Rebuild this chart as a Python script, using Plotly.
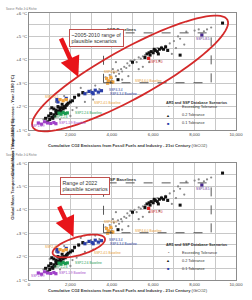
import numpy as np
import plotly.graph_objects as go

# ---------------- data (GtCO2, degC) ----------------
grey_x = [3700, 3800, 3900, 4000, 4100, 4200, 4300, 4350, 4450, 4500, 4600, 4700, 4750, 4850,
          4900, 5000, 5100, 5200, 5300, 5400, 5500, 5600, 5300, 5500, 4800, 6000, 6200, 6400,
          6600, 6800, 7000, 7100, 7300, 6900, 7500, 7200, 7600, 8000, 8200, 8800, 5800, 6300,
          4200, 4500, 4050, 8450, 8600,
          700, 900, 1100, 1200, 1400, 1600, 1800, 2000, 2200, 2400, 2600, 2800, 3000, 2300,
          2700, 3100, 1500, 2000, 2500, 3200, 1000, 1300, 3400, 600, 2100, 1700]
grey_y = [3.25, 3.10, 3.35, 3.20, 3.45, 3.30, 3.55, 3.40, 3.60, 3.50, 3.70, 3.65, 3.85, 3.75,
          3.95, 3.85, 4.00, 3.90, 4.10, 4.05, 4.15, 4.20, 3.60, 3.70, 3.30, 4.40, 4.50, 4.55,
          4.60, 4.70, 4.80, 4.50, 4.90, 4.25, 4.65, 5.00, 5.20, 5.25, 5.30, 5.38, 3.90, 3.95,
          3.90, 3.15, 3.60, 5.22, 5.30,
          1.45, 1.50, 1.70, 1.55, 1.90, 2.00, 2.10, 2.30, 2.35, 2.45, 2.55, 2.60, 2.70, 1.95,
          2.20, 2.30, 1.45, 1.60, 2.80, 2.90, 1.90, 2.20, 2.75, 1.25, 1.85, 2.45]

black_x = [5700, 5800, 5900, 6000, 6100, 6200, 6300, 6400, 6500, 6600, 5850, 6050, 6250, 5600,
           7300, 5000, 4300, 9350, 6700, 4000,
           900, 1000, 1100, 1150, 1200, 1250, 1300, 1350, 1400, 1450, 1500, 1550, 1600, 1650,
           1700, 1750, 1800, 1850, 1900, 2000, 2100, 1200, 1050, 950, 1400, 1600, 2200, 2400,
           2600, 1100, 800, 1500, 1300]
black_y = [4.25, 4.30, 4.35, 4.30, 4.40, 4.35, 4.45, 4.50, 4.45, 4.55, 4.20, 4.45, 4.25, 4.10,
           4.20, 3.90, 3.15, 5.57, 4.40, 3.05,
           1.35, 1.45, 1.55, 1.50, 1.65, 1.60, 1.75, 1.70, 1.80, 1.75, 1.85, 1.80, 1.95, 1.90,
           2.00, 1.95, 2.05, 2.10, 2.15, 2.20, 2.25, 1.90, 1.70, 1.60, 2.00, 2.10, 2.40, 2.50,
           2.60, 1.95, 1.50, 1.95, 1.85]

blue_x = [1350, 1400, 2900, 3050, 3200, 3350, 3500, 3100, 2700, 1800]
blue_y = [2.30, 2.20, 2.65, 2.60, 2.70, 2.62, 2.68, 2.55, 2.55, 2.35]

purple_x = [450, 600, 750, 900, 1050, 1200, 1300]
purple_y = [1.30, 1.25, 1.35, 1.30, 1.28, 1.32, 1.27]
green_x = [1450, 1550, 1650, 1750, 1850]
green_y = [1.72, 1.68, 1.75, 1.70, 1.73]
orange_x = [1500, 1650, 1800, 3750, 3850, 3950, 4050, 3800]
orange_y = [2.30, 2.25, 2.30, 3.20, 3.10, 3.25, 3.05, 3.00]
red_x = [5780]
red_y = [4.06]
ssp585_x = [8350]
ssp585_y = [5.06]

labels = [  # text, x, y, colour
    ("SSP5-8.5", 8400, 4.88, "#5b2d90"),
    ("SSP3-7.0", 6150, 3.90, "#d02020"),
    ("SSP4-6.0", 3950, 3.50, "#e89a30"),
    ("SSP4-6.0 Baseline", 5750, 3.10, "#e89a30"),
    ("SSP4-3.4", 4200, 2.72, "#23379a"),
    ("SSP4-3.4 Baseline", 4550, 2.53, "#23379a"),
    ("SSP2-4.5", 1100, 2.41, "#e89a30"),
    ("SSP2-4.5 Baseline", 3800, 2.15, "#e89a30"),
    ("SSP2-2.6", 1550, 1.57, "#1a9a50"),
    ("SSP2-2.6 Baseline", 2850, 1.72, "#1a9a50"),
    ("SSP1-1.9", 450, 1.15, "#a040c8"),
    ("SSP1-1.9 Baseline", 2100, 1.30, "#a040c8"),
]

xticks = [0, 1000, 2000, 3000, 4000, 5000, 6000, 7000, 8000, 9000, 10000]
xticktext = ["0", "", "2,000", "", "4,000", "", "6,000", "", "8,000", "", "10,000"]
yticks = [1, 1.5, 2, 2.5, 3, 3.5, 4, 4.5, 5, 5.5, 6]
yticktext = ["+1 °C", "", "+2 °C", "", "+3 °C", "", "+4 °C", "", "+5 °C", "", "+6 °C"]

panel_notes = ["~2005-2010 range of<br>plausible scenarios", "Range of 2022<br>plausible scenarios"]

# ---------------- geometry helpers ----------------
W, H = 252, 300
L, R, T, B = 29, 9, 13, 20
PW, PH = W - L - R, H - T - B


def pp(px, py):
    return (px - L) / PW, (H - B - py) / PH


FONT = "Liberation Sans, Arial, sans-serif"
GRID = "#c8c8c8"
fig = go.Figure()

axes = [("x", "y"), ("x2", "y2")]
for i, (xa, ya) in enumerate(axes):
    fig.add_trace(go.Scatter(x=grey_x, y=grey_y, mode="markers", xaxis=xa, yaxis=ya,
                             marker=dict(size=2.2, color="#8a8a8a"), showlegend=False))
    fig.add_trace(go.Scatter(x=black_x, y=black_y, mode="markers", xaxis=xa, yaxis=ya,
                             marker=dict(size=3.0, color="#111111", symbol="square"), showlegend=False))
    fig.add_trace(go.Scatter(x=blue_x, y=blue_y, mode="markers", xaxis=xa, yaxis=ya,
                             marker=dict(size=3.2, color="#2a3fa8", symbol="square"), showlegend=False))
    for xs, ys, c in [(purple_x, purple_y, "#a040c8"), (green_x, green_y, "#1a9a50"),
                      (orange_x, orange_y, "#f0a540"), (red_x, red_y, "#e02020"),
                      (ssp585_x, ssp585_y, "#4a2a90")]:
        fig.add_trace(go.Scatter(x=xs, y=ys, mode="markers", xaxis=xa, yaxis=ya,
                                 marker=dict(size=3.2, color=c, symbol="square"), showlegend=False))

ax_common = dict(showline=True, linecolor="#8c8c8c", linewidth=1, mirror=True,
                 showgrid=True, gridcolor=GRID, gridwidth=0.8, zeroline=False, ticks="",
                 tickfont=dict(size=4.3, color="#444", family=FONT))
xax = dict(ax_common, range=[0, 10000], tickmode="array", tickvals=xticks, ticktext=xticktext)
yax = dict(ax_common, range=[1, 6], tickmode="array", tickvals=yticks, ticktext=yticktext)
top_b = (H - B - 130) / PH
bot_t = (H - B - 163) / PH
fig.update_layout(
    xaxis=dict(xax, domain=[0, 1], anchor="y"),
    yaxis=dict(yax, domain=[top_b, 1], anchor="x"),
    xaxis2=dict(xax, domain=[0, 1], anchor="y2"),
    yaxis2=dict(yax, domain=[0, bot_t], anchor="x2"),
)

shapes = []
annotations = []
for i, (xa, ya) in enumerate(axes):
    off = 150 * i
    # dashed SSP baselines box
    shapes.append(dict(type="rect", xref=xa, yref=ya, x0=3600, x1=8800, y0=3.02, y1=5.15,
                       line=dict(color="#444", width=0.9, dash="dash")))
    annotations.append(dict(xref=xa, yref=ya, x=3650, y=5.3, text="<b>SSP Baselines</b>",
                            showarrow=False, xanchor="left", yanchor="middle",
                            font=dict(size=4.2, color="#333", family=FONT)))
    for txt, lx, ly, c in labels:
        annotations.append(dict(xref=xa, yref=ya, x=lx, y=ly, text=txt, showarrow=False,
                                font=dict(size=3.2, color=c, family=FONT)))
    # axis titles
    yt = pp(7, 71.5 + off)
    annotations.append(dict(xref="paper", yref="paper", x=yt[0], y=yt[1], textangle=-90,
                            text="<b>Global Mean Temperature Increase - Year 2100 (°C)</b>",
                            showarrow=False, font=dict(size=4.2, color="#333", family=FONT)))
    xt = pp(131, 145 + off)
    annotations.append(dict(xref="paper", yref="paper", x=xt[0], y=xt[1],
                            text="<b>Cumulative CO2 Emissions from Fossil Fuels and Industry - 21st Century</b> (GtCO2)",
                            showarrow=False, font=dict(size=4.1, color="#333", family=FONT)))
    # tiny source text
    st = pp(3, 5 + off)
    annotations.append(dict(xref="paper", yref="paper", x=st[0], y=st[1], xanchor="left",
                            text="Source: Pielke Jr &amp; Ritchie", showarrow=False,
                            font=dict(size=2.6, color="#777", family=FONT)))
    # legend
    lt = pp(169, 99 + off)
    annotations.append(dict(xref="paper", yref="paper", x=lt[0], y=lt[1], xanchor="left",
                            text="<b>AR5 and SSP Database Scenarios</b>", showarrow=False,
                            font=dict(size=3.8, color="#333", family=FONT)))
    for k, (sym, sc, txt) in enumerate([("•", "#777", "Exceeding Tolerance"),
                                        ("▲", "#222", "0.2 Tolerance"),
                                        ("■", "#2a3fa8", "0.1 Tolerance")]):
        ms = pp(177, 107 + 8 * k + off)
        annotations.append(dict(xref="paper", yref="paper", x=ms[0], y=ms[1], text=sym,
                                showarrow=False, font=dict(size=4, color=sc, family=FONT)))
        ts = pp(185, 107 + 8 * k + off)
        annotations.append(dict(xref="paper", yref="paper", x=ts[0], y=ts[1], xanchor="left",
                                text=txt, showarrow=False,
                                font=dict(size=3.8, color="#333", family=FONT)))

# red ellipses (pixel-space geometry -> paper)
def ellipse_path(cx, cy, a, b, ang_deg, n=90):
    t = np.linspace(0, 2 * np.pi, n)
    ang = np.deg2rad(ang_deg)
    ex = cx + a * np.cos(t) * np.cos(ang) - b * np.sin(t) * np.sin(ang)
    ey = cy + a * np.cos(t) * np.sin(ang) + b * np.sin(t) * np.cos(ang)
    pts = [pp(x, y) for x, y in zip(ex, ey)]
    return "M " + " L ".join(f"{x:.4f},{y:.4f}" for x, y in pts) + " Z"

shapes.append(dict(type="path", xref="paper", yref="paper",
                   path=ellipse_path(133.5, 73.5, 114, 25, -28),
                   line=dict(color="#d42a2a", width=1.8)))
shapes.append(dict(type="path", xref="paper", yref="paper",
                   path=ellipse_path(80.5, 246, 28, 9, -15.5),
                   line=dict(color="#d42a2a", width=1.8)))

# arrows
for (hx, hy, axp, ayp) in [(80, 77, -18, -40), (75, 237, -15, -32)]:
    hp = pp(hx, hy)
    annotations.append(dict(xref="paper", yref="paper", x=hp[0], y=hp[1], ax=axp, ay=ayp,
                            text="", showarrow=True, arrowhead=2, arrowsize=0.9,
                            arrowwidth=4.5, arrowcolor="#e8141a"))

# note boxes
for (cx, cy), txt in zip([(70.3, 29), (61, 195.3)], panel_notes):
    p = pp(cx, cy)
    annotations.append(dict(xref="paper", yref="paper", x=p[0], y=p[1], text=txt,
                            showarrow=False, align="left", bgcolor="white",
                            bordercolor="#c0504d", borderwidth=1, borderpad=1.5,
                            font=dict(size=5.3, color="#333", family=FONT)))

fig.update_layout(
    width=W, height=H,
    margin=dict(l=L, r=R, t=T, b=B),
    paper_bgcolor="white", plot_bgcolor="white",
    shapes=shapes, annotations=annotations, showlegend=False,
    font=dict(family=FONT),
)
fig.write_html("out.html", config={"displayModeBar": False})
